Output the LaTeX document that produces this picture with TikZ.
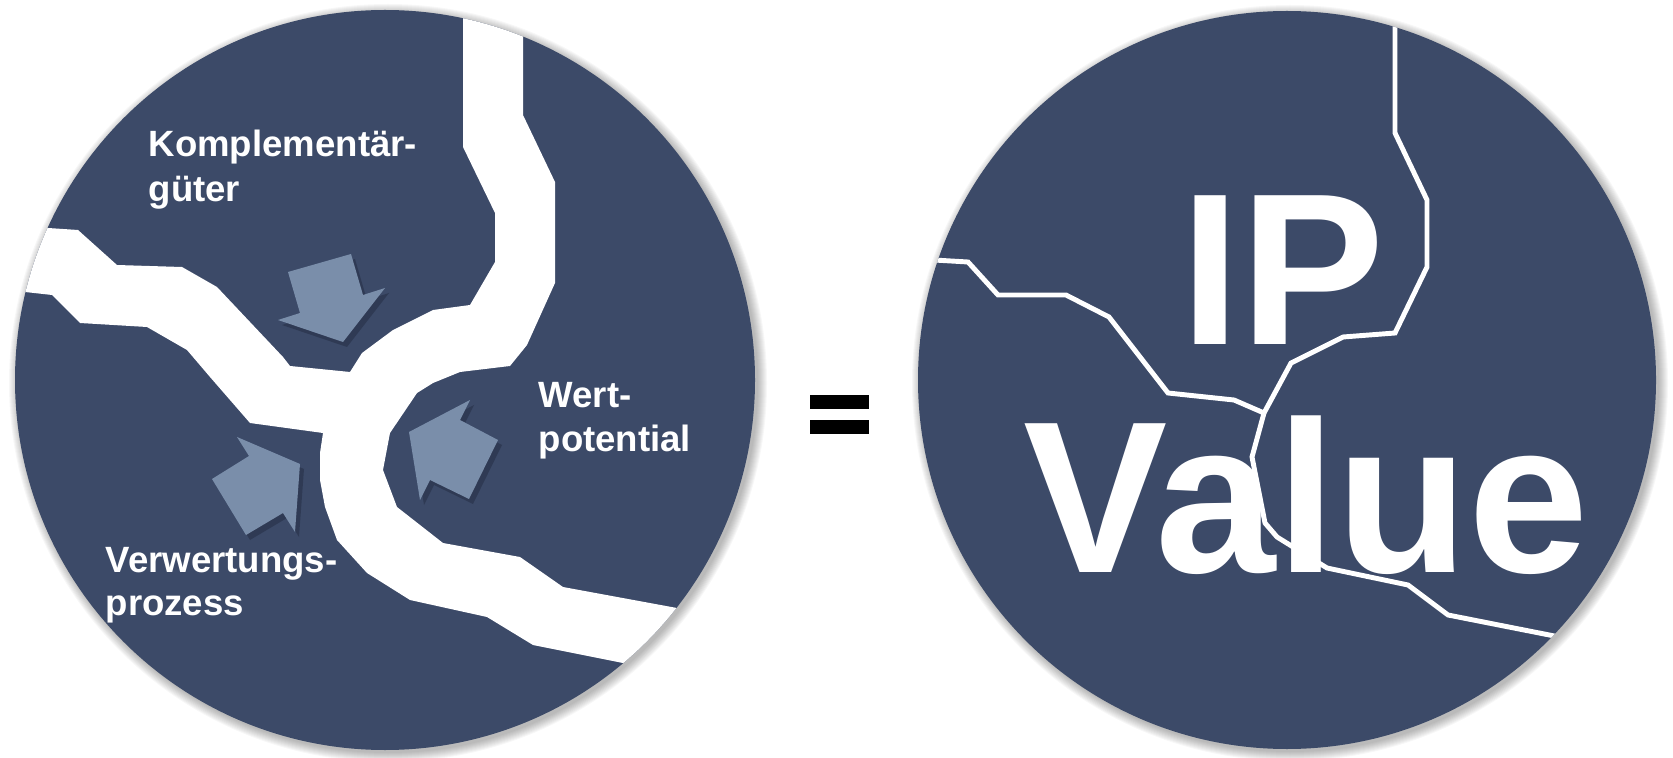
\documentclass[tikz,border=0pt]{standalone}
\usepackage{fontspec}
\setmainfont{Liberation Sans}
\definecolor{navy}{HTML}{3C4A68}
\definecolor{arrowblue}{HTML}{7A8EAA}
\definecolor{shadowblue}{HTML}{232C42}
\begin{document}
\begin{tikzpicture}[x=0.01cm,y=-0.01cm,
  disc/.style={fill=navy},
  roadfill/.style={fill=white},
  blockarrow/.style={fill=arrowblue},
  arrowshadow/.style={fill=shadowblue,opacity=0.5},
  label/.style={text=white,font=\bfseries\fontsize{10.4}{12.8}\selectfont,inner sep=0,anchor=base west},
  bigword/.style={text=white,font=\bfseries\fontsize{61.5}{70}\selectfont,inner sep=0,anchor=base},
  crack/.style={draw=white,line width=1.4pt,line join=miter}]
\useasboundingbox (0,0) rectangle (1673,758);
% soft shadows of the discs
\foreach \i in {1,...,10}{
  \fill[black,opacity=0.03] (388,383) circle [radius=369+\i];
  \fill[black,opacity=0.03] (1290,383) circle [radius=368+\i];
}
% left disc
\fill[disc] (385,380) circle [radius=370];
\begin{scope}
\clip (385,380) circle [radius=370];
\fill[roadfill] (463,-5) -- (463,147) -- (495,213) -- (495,262) -- (470,305) -- (433,310)
  -- (393,330) -- (362,353) -- (350,372) -- (290,366) -- (283,357) -- (217,287)
  -- (182,267) -- (117,265) -- (78,230) -- (48,228) -- (-10,228) -- (-10,292)
  -- (25,292) -- (52,295) -- (80,323) -- (147,327) -- (187,350) -- (210,377)
  -- (250,423) -- (323,433) -- (320,453) -- (320,480) -- (325,507) -- (337,540)
  -- (367,573) -- (410,600) -- (487,617) -- (533,645) -- (623,663) -- (780,690)
  -- (780,614) -- (677,608) -- (563,587) -- (520,557) -- (443,543) -- (397,507)
  -- (383,470) -- (390,433) -- (417,393) -- (433,383) -- (460,372) -- (510,366)
  -- (527,345) -- (555,283) -- (555,182) -- (523,115) -- (523,-5) -- cycle;
\end{scope}
% arrow shadows
\begin{scope}[shift={(4,5)}]
\fill[arrowshadow] (288,272) -- (351,254) -- (363,295) -- (385,288) -- (343,342) -- (278,320) -- (300,313) -- cycle;
\fill[arrowshadow] (212,479) -- (249,456) -- (237,437) -- (300,464) -- (295,532) -- (283,513) -- (246,535) -- cycle;
\fill[arrowshadow] (498,440) -- (460,420) -- (470,400) -- (409,432) -- (420,500) -- (430,480) -- (469,499) -- cycle;
\end{scope}
% arrows
\fill[blockarrow] (288,272) -- (351,254) -- (363,295) -- (385,288) -- (343,342) -- (278,320) -- (300,313) -- cycle;
\fill[blockarrow] (212,479) -- (249,456) -- (237,437) -- (300,464) -- (295,532) -- (283,513) -- (246,535) -- cycle;
\fill[blockarrow] (498,440) -- (460,420) -- (470,400) -- (409,432) -- (420,500) -- (430,480) -- (469,499) -- cycle;
% labels
\node[label] (k1) at (148,157) {Komplementär-};
\node[label] (k2) at (148,202) {güter};
\node[label] (w1) at (538,407) {Wert-};
\node[label] (w2) at (538,452) {potential};
\node[label] (v1) at (105,572) {Verwertungs-};
\node[label] (v2) at (105,615) {prozess};
% equals sign
\fill[black] (810,395) rectangle (869,409);
\fill[black] (810,420) rectangle (869,434);
% right disc
\fill[disc] (1287,380) circle [radius=369];
\begin{scope}
\clip (1287,380) circle [radius=369];
\draw[crack] (1395,0) -- (1395,133) -- (1427,200) -- (1427,267) -- (1395,333) -- (1343,337) -- (1291,363) -- (1264,413);
\draw[crack] (900,258) -- (968,262) -- (998,295) -- (1066,295) -- (1109,317) -- (1168,393) -- (1234,400) -- (1264,413);
\draw[crack] (1264,413) -- (1252,457) -- (1265,523) -- (1277,537) -- (1327,568) -- (1408,585) -- (1448,615) -- (1600,645);
\end{scope}
\node[bigword] (ip) at (1283,345) {IP};
\node[bigword] (value) at (1306,572) {Value};
\end{tikzpicture}
\end{document}
